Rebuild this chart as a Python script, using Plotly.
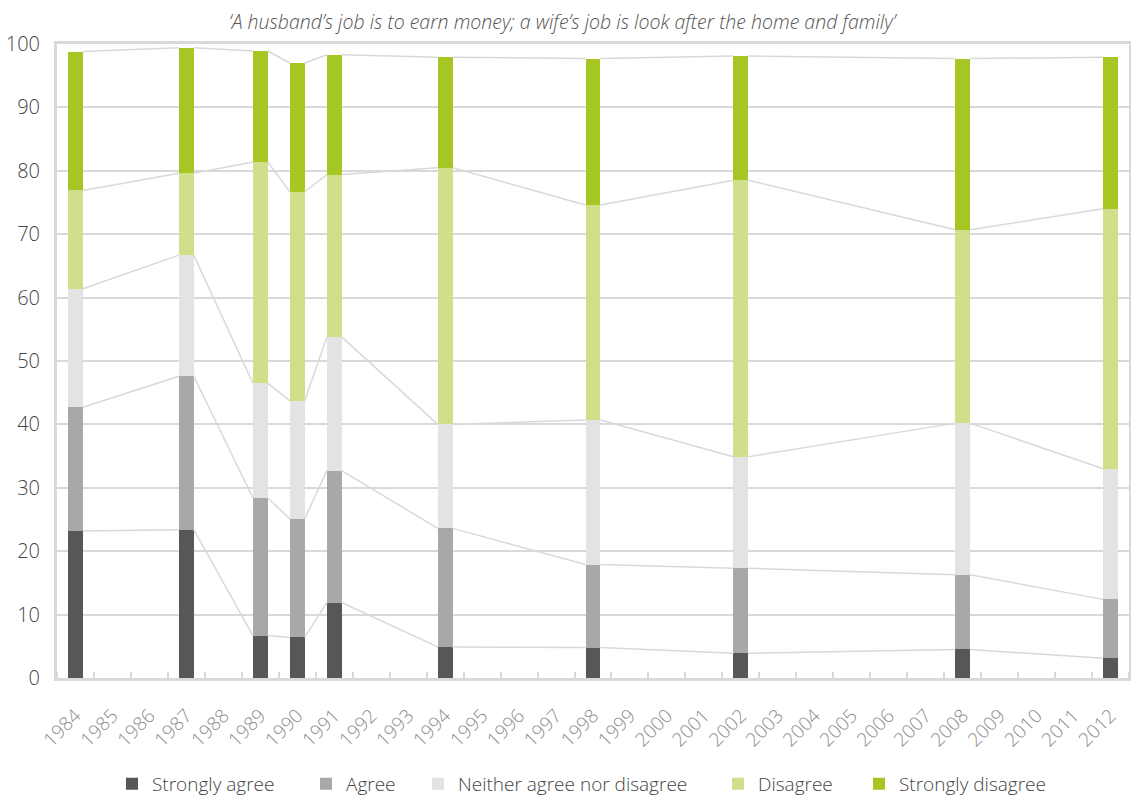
import plotly.graph_objects as go

years_axis = list(range(1984, 2013))
survey_years = [1984, 1987, 1989, 1990, 1991, 1994, 1998, 2002, 2008, 2012]

strongly_agree = [23.2, 23.4, 6.7, 6.4, 11.9, 4.9, 4.8, 3.9, 4.5, 3.1]
agree = [19.5, 24.2, 21.7, 18.7, 20.8, 18.7, 13.1, 13.4, 11.8, 9.3]
neither = [18.7, 19.1, 18.1, 18.6, 21.1, 16.4, 22.8, 17.6, 23.9, 20.6]
disagree = [15.5, 12.9, 34.9, 33.0, 25.6, 40.5, 33.9, 43.6, 30.5, 41.0]
strongly_disagree = [21.9, 19.8, 17.5, 20.3, 18.9, 17.4, 23.1, 19.6, 27.0, 23.9]

series_names = ["Strongly agree", "Agree", "Neither agree nor disagree", "Disagree", "Strongly disagree"]
series_values = [strongly_agree, agree, neither, disagree, strongly_disagree]
series_colors = ["#575757", "#a8a8a7", "#e3e3e3", "#cfdf8a", "#a6c623"]

title_text = "\u2018A husband\u2019s job is to earn money; a wife\u2019s job is look after the home and family\u2019"

BAR_W = 0.4
LINE_COLOR = "#d9d9d9"
FONT = "Open Sans, Lato, sans-serif"
FIG_W, FIG_H = 1131, 790
# legend entry left positions (page pixels) for each series
legend_left_px = [124, 318, 430, 730, 871]

fig = go.Figure()

cum = [0.0] * len(survey_years)
levels = []
for vals in series_values:
    cum = [c + v for c, v in zip(cum, vals)]
    levels.append(list(cum))

for lev in levels:
    xs, ys = [], []
    for i in range(len(survey_years) - 1):
        xs += [survey_years[i] + BAR_W / 2, survey_years[i + 1] - BAR_W / 2, None]
        ys += [lev[i], lev[i + 1], None]
    fig.add_trace(go.Scatter(x=xs, y=ys, mode="lines", line=dict(color=LINE_COLOR, width=1.5),
                             showlegend=False, hoverinfo="skip"))

legend_layouts = {}
for k, (name, vals, col) in enumerate(zip(series_names, series_values, series_colors)):
    lname = "legend" if k == 0 else f"legend{k + 1}"
    fig.add_trace(go.Bar(x=survey_years, y=vals, name=name, width=BAR_W,
                         marker=dict(color=col, line=dict(width=0)), legend=lname))
    legend_layouts[lname] = dict(
        orientation="h", x=(legend_left_px[k] - 8 - 12) / FIG_W, xanchor="left", xref="container",
        y=0.018, yanchor="middle", yref="container",
        font=dict(family=FONT, size=19, color="#444", weight=300),
        itemwidth=30, bgcolor="rgba(0,0,0,0)",
    )

fig.update_layout(
    barmode="stack",
    width=FIG_W, height=FIG_H,
    margin=dict(l=49, r=10, t=36, b=120, autoexpand=False),
    paper_bgcolor="white", plot_bgcolor="white",
    font=dict(family=FONT, color="#444", weight=300),
    title=dict(text=title_text, x=0.49, xref="container", xanchor="center",
               y=0.982, yref="container", yanchor="middle",
               font=dict(family=FONT, size=19.5, color="#555", style="italic", weight=300)),
    **legend_layouts,
)

fig.update_xaxes(
    range=[1983.5, 2012.5],
    tickmode="array", tickvals=years_axis, ticktext=[str(y) for y in years_axis],
    tickangle=-45, tickfont=dict(family=FONT, size=19, color="#8c8c8c", weight=300),
    ticks="", showgrid=False, zeroline=False, ticklabelstandoff=16,
    showline=True, mirror=True, linewidth=3, linecolor=LINE_COLOR,
    minor=dict(tick0=1983.5, dtick=1, ticks="inside", ticklen=6, tickcolor=LINE_COLOR,
               tickwidth=1.5, showgrid=False),
)
fig.update_yaxes(
    range=[0, 100], tickvals=list(range(0, 101, 10)),
    tickfont=dict(family=FONT, size=20, color="#444", weight=300),
    showgrid=True, gridcolor=LINE_COLOR, gridwidth=1.5,
    zeroline=False, showline=True, mirror=True, linewidth=3, linecolor=LINE_COLOR,
    ticks="", ticklen=0, ticklabelstandoff=10,
)

fig.write_html("out.html")
